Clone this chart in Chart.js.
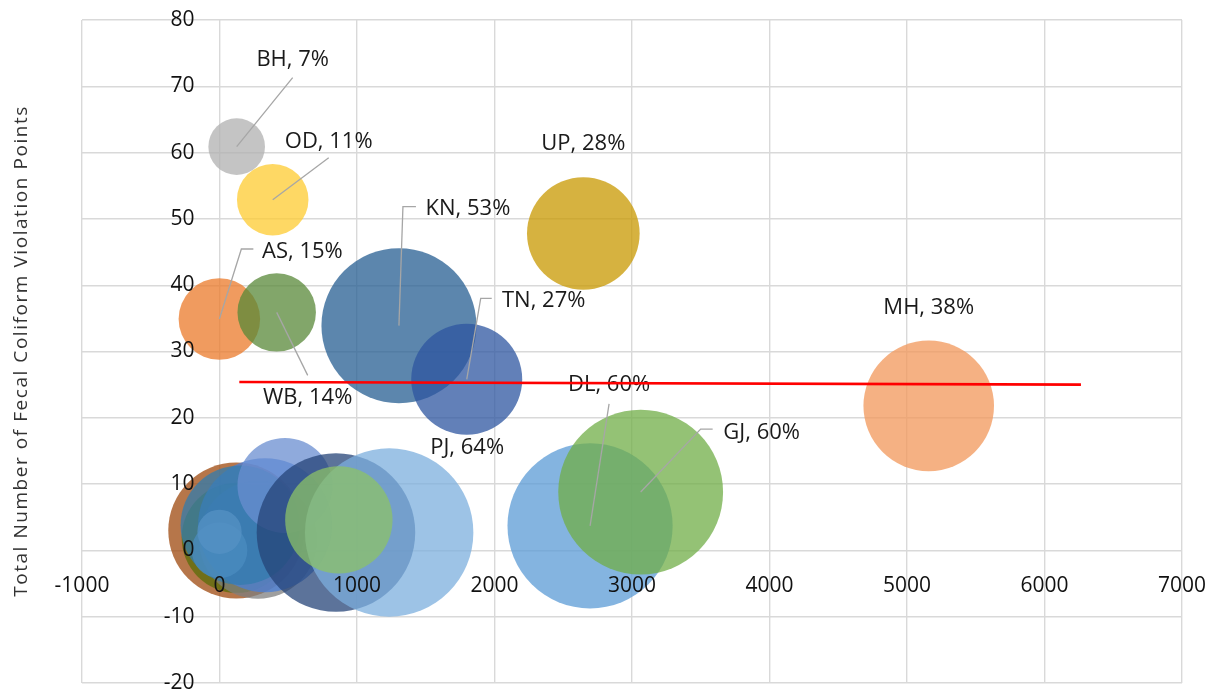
<!DOCTYPE html>
<html><head><meta charset="utf-8">
<script src="https://cdn.jsdelivr.net/npm/chart.js@4"></script>
<style>html,body{margin:0;padding:0;background:#fff}#wrap{width:1209px;height:690px;position:relative}</style>
</head><body><div id="wrap"><canvas id="c"></canvas></div>
<script>
// ---- data (drawing order: first point at the bottom) ----
const states   = ['', '', '', '', '', '', '', '', '', 'PJ', '', 'BH', 'OD', 'AS', 'WB', 'KN', 'TN', 'UP', 'DL', 'GJ', 'MH'];
const percents = ['', '', '', '', '', '', '', '', '', '64%', '', '7%', '11%', '15%', '14%', '53%', '27%', '28%', '60%', '60%', '38%'];
const xValues  = [122, 125, 280, 331, 151, 0, 0, 476, 847, 1234, 868, 125, 387, -1, 416, 1305, 1798, 2646, 2695, 3063, 5158];
const yValues  = [3, 1.9, 1.6, 3.8, 3.8, 0, 2.8, 9.8, 2.7, 2.7, 4.6, 60.9, 52.9, 34.9, 35.9, 33.9, 25.8, 47.8, 3.7, 8.8, 21.8];
const bubbleSizes = [64.0, 41.9, 48.2, 62.1, 49.3, 10.7, 6.8, 31.2, 87.0, 98.1, 39.9, 11.1, 17.7, 23.0, 21.3, 83.1, 42.6, 43.9, 94.4, 94.0, 59.0];
const bubbleColors = ['#9E480E', '#5a6e08', '#7F7F7F', '#4a7fd8', '#337CAD', '#4b8cc0', '#5691C4', '#698ED0', '#264478', '#7CAFDD', '#8CC168',
                      '#B0B0B0', '#FECB30', '#EB7A2A', '#588838', '#255E91', '#2E56A0', '#C89800', '#5B9BD5', '#70AD47', '#F1975A'];
const trendX = [144, 6265];
const trendY = [25.4, 25.0];
const xRange = [-1000, 7000], xStep = 1000;
const yRange = [-20, 80], yStep = 10;
const yTitle = 'Total Number of Fecal Coliform Violation Points';

// ---- presentation ----
const RADIUS_PER_SQRT = 8.5;
const ALPHA = 0.75;
// label text centre and leader-line points, as pixel offsets from the bubble centre
const labelLayout = {
  BH: {text: [56, -89], leader: [[56, -69]]},
  OD: {text: [56, -60], leader: [[56, -42]]},
  AS: {text: [83, -69], leader: [[22, -70], [34, -70]]},
  WB: {text: [31, 84],  leader: [[31, 63]]},
  KN: {text: [69, -119], leader: [[4, -119], [17, -119]]},
  TN: {text: [77, -80], leader: [[14, -81], [25, -81]]},
  UP: {text: [0, -91]},
  MH: {text: [0, -100]},
  DL: {text: [19, -143], leader: [[19, -122]]},
  GJ: {text: [121, -61], leader: [[60, -63], [72, -63]]},
  PJ: {text: [78, -86]}
};

function rgba(hex, a) {
  const n = parseInt(hex.slice(1), 16);
  return `rgba(${(n >> 16) & 255},${(n >> 8) & 255},${n & 255},${a})`;
}

const bubbleData = xValues.map((x, i) => ({x, y: yValues[i], r: Math.sqrt(bubbleSizes[i]) * RADIUS_PER_SQRT}));
const trendData = trendX.map((x, i) => ({x, y: trendY[i]}));

const FONT = '"Open Sans", "Noto Sans", sans-serif';
Chart.defaults.font.family = FONT;

const bubbleLabels = {
  id: 'bubbleLabels',
  afterDatasetDraw(chart, args) {
    if (args.index !== 0) return;
    const ctx = chart.ctx;
    ctx.save();
    args.meta.data.forEach((el, i) => {
      const name = states[i];
      if (!name) return;
      const lay = labelLayout[name];
      const cx = el.x, cy = el.y;
      if (lay.leader) {
        ctx.beginPath();
        ctx.moveTo(cx, cy);
        lay.leader.forEach(p => ctx.lineTo(cx + p[0], cy + p[1]));
        ctx.strokeStyle = '#a6a6a6';
        ctx.lineWidth = 1.3;
        ctx.stroke();
      }
      ctx.font = '22px ' + FONT;
      ctx.fillStyle = '#1a1a1a';
      ctx.textAlign = 'center';
      ctx.textBaseline = 'alphabetic';
      ctx.fillText(name + ', ' + percents[i], cx + lay.text[0], cy + lay.text[1] + 7.9);
    });
    ctx.restore();
  }
};

const sideTitle = {
  id: 'sideTitle',
  afterDraw(chart) {
    const ctx = chart.ctx;
    ctx.save();
    ctx.translate(22, 351);
    ctx.rotate(-Math.PI / 2);
    ctx.font = '19px ' + FONT;
    const w = ctx.measureText(yTitle).width;
    const target = 490;
    if ('letterSpacing' in ctx && w < target) {
      ctx.letterSpacing = ((target - w) / (yTitle.length - 1)).toFixed(2) + 'px';
    }
    ctx.fillStyle = '#333333';
    ctx.textAlign = 'center';
    ctx.textBaseline = 'middle';
    ctx.fillText(yTitle, 0, 0);
    ctx.restore();
  }
};

const gridOpts = {color: '#d9d9d9', lineWidth: 1.4, drawTicks: false};
const plainNumber = v => String(v);

new Chart(document.getElementById('c'), {
  data: {
    datasets: [
      {
        type: 'bubble',
        data: bubbleData,
        backgroundColor: bubbleColors.map(c => rgba(c, ALPHA)),
        borderWidth: 0,
        hoverBorderWidth: 0,
        order: 1
      },
      {
        type: 'line',
        data: trendData,
        borderColor: '#ff0000',
        borderWidth: 2.6,
        pointRadius: 0,
        fill: false,
        order: 0
      }
    ]
  },
  options: {
    responsive: true,
    maintainAspectRatio: false,
    animation: false,
    events: [],
    layout: {autoPadding: false, padding: {left: 82, right: 27, top: 20, bottom: 7}},
    plugins: {legend: {display: false}, tooltip: {enabled: false}},
    scales: {
      x: {
        type: 'linear', min: xRange[0], max: xRange[1],
        ticks: {display: false, stepSize: xStep},
        grid: gridOpts, border: {display: false}
      },
      y: {
        type: 'linear', min: yRange[0], max: yRange[1],
        ticks: {display: false, stepSize: yStep},
        grid: gridOpts, border: {display: false}
      },
      xLab: {
        axis: 'x', type: 'linear', position: {y: 0}, min: xRange[0], max: xRange[1],
        ticks: {stepSize: xStep, padding: 0, color: '#111', font: {size: 21, lineHeight: 3.4}, maxRotation: 0, autoSkip: false, z: 1, callback: plainNumber},
        grid: {display: false, drawTicks: false}, border: {display: false}
      },
      yLab: {
        axis: 'y', type: 'linear', position: {x: -182}, min: yRange[0], max: yRange[1],
        ticks: {stepSize: yStep, padding: 0, color: '#111', font: {size: 21, lineHeight: 0.6}, autoSkip: false, z: 1, callback: plainNumber},
        grid: {display: false, drawTicks: false}, border: {display: false}
      }
    }
  },
  plugins: [bubbleLabels, sideTitle]
});
</script>
</body></html>
